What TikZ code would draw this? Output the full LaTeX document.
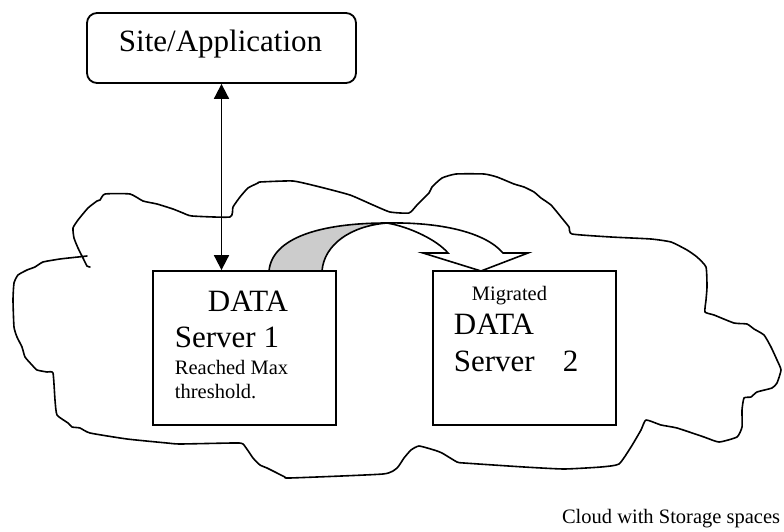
\documentclass[tikz,border=0pt]{standalone}
\usepackage{fontspec}
\setmainfont{Liberation Serif}
\usetikzlibrary{arrows.meta}
\begin{document}
\begin{tikzpicture}[x=1pt,y=-1pt, line width=1.8pt,
  box/.style={draw, fill=white, rectangle, inner sep=0pt, line width=1.8pt},
  big/.style={font=\fontsize{31}{36}\selectfont, inner sep=0pt, anchor=base west},
  small/.style={font=\fontsize{20.5}{24}\selectfont, inner sep=0pt, anchor=base west},
  dbl/.style={{Triangle[width=15pt,length=15pt]}-{Triangle[width=15pt,length=15pt]}, line width=1.8pt},
  cloudline/.style={line width=1.6pt, line join=round, line cap=round}]
\useasboundingbox (0,0) rectangle (784,532);

% cloud
\draw[cloudline] plot[smooth, tension=0.3] coordinates {
(90,267) (87,266) (83,258) (78,248) (74,238) (73,228) (78,220) (88,208) (97,201) (100,200) (105,194) (130,194) (143,201) (157,204) (173,209) (183,213) (192,216) (230,217) (233,207) (240,197) (248,188) (258,183) (260,182) (293,181) (320,187) (350,195) (373,205) (390,212) (409,213) (417,205) (429,193) (432,187) (442,178) (456,174) (484,174) (497,177) (514,184) (524,187) (534,192) (541,198) (551,205) (561,217) (569,227) (572,234) (611,237) (651,239) (671,242) (687,250) (697,257) (706,267) (707,287) (706,300) (705,312) (714,315) (734,323) (747,324) (754,329) (764,335) (771,347) (777,360) (781,370) (777,383) (772,388) (757,392) (751,397) (744,398) (742,410) (742,427) (737,437) (719,442) (704,437) (677,428) (661,425) (646,420) (641,430) (631,447) (619,464) (601,467) (564,469) (524,467) (464,463) (457,462) (442,453) (434,450) (419,446) (411,450) (404,458) (397,468) (383,474) (290,478) (285,477) (275,472) (267,468) (260,465) (253,458) (243,444) (233,443) (180,444) (167,443) (127,439) (90,433) (80,428) (72,427) (68,423) (57,415) (55,400) (53,373) (47,372) (37,370) (32,365) (25,357) (22,347) (17,337) (14,327) (13,300) (14,283) (18,275) (27,270) (35,267) (43,262) (60,259) (78,257) (87,256)};

% boxes
\node[box, rounded corners=10pt, minimum width=269pt, minimum height=70pt] (site) at (221.5,48) {};
\node[big] (sitetxt) at (118,52) {Site/Application};

\node[box, minimum width=183pt, minimum height=154pt] (s1) at (244.5,348) {};
\node[box, minimum width=183pt, minimum height=154pt] (s2) at (524.5,348) {};

\node[big] (d1) at (207,311) {DATA};
\node[big] (sv1) at (174,347) {Server 1};
\node[small] (r1) at (174,374) {Reached Max};
\node[small] (r2) at (174,398) {threshold.};

\node[small] (mig) at (471,300) {Migrated};
\node[big] (d2) at (453,334) {DATA};
\node[big] (sv2) at (453,371) {Server};
\node[big] (two) at (562,371) {2};

\node[small, anchor=base east] (cap) at (781,523) {Cloud with Storage spaces};

% double arrow
\draw[dbl] (site.south) -- (site.south |- s1.north);

% curved block arrow
\coordinate (ol) at (269,271);
\coordinate (il) at (322,271);
\coordinate (top) at (387,223);
\coordinate (or) at (503,253);
\coordinate (ir) at (448,253);
\coordinate (wr) at (528,253);
\coordinate (wl) at (423,253);
\coordinate (tip) at (481,271);
\fill[white] (ol) .. controls (272,238) and (320,223) .. (top)
  .. controls (440,222) and (485,232) .. (or) -- (wr) -- (tip) -- (wl) -- (ir)
  .. controls (437,240) and (410,227) .. (top)
  .. controls (350,226) and (324,245) .. (il) -- cycle;
\filldraw[fill=black!20, line width=1.6pt, line join=round] (ol) .. controls (272,238) and (320,223) .. (top)
  .. controls (350,226) and (324,245) .. (il) -- cycle;
\draw[line width=1.6pt, line join=miter] (top)
  .. controls (440,222) and (485,232) .. (or) -- (wr) -- (tip) -- (wl) -- (ir)
  .. controls (437,240) and (410,227) .. (top);
\end{tikzpicture}
\end{document}
